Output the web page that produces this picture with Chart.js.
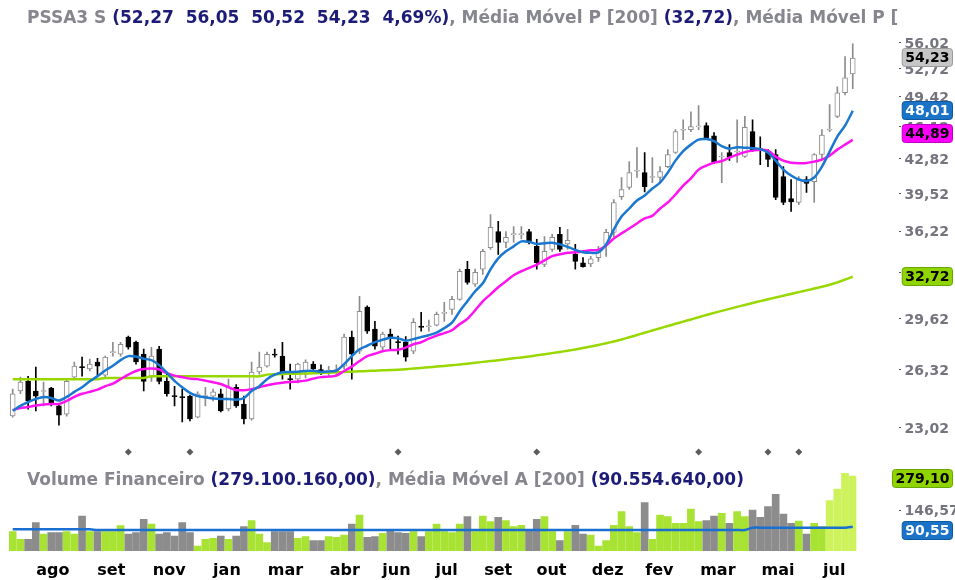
<!DOCTYPE html>
<html>
<head>
<meta charset="utf-8">
<script src="https://cdn.jsdelivr.net/npm/chart.js@4.4.0/dist/chart.umd.min.js"></script>
<style>
html, body { margin: 0; padding: 0; background: #fff; }
#wrap { position: relative; width: 955px; height: 580px; overflow: hidden; }
#c { position: absolute; left: 0; top: 0; }
.t { position: absolute; left: 27px; font: bold 17px 'DejaVu Sans', Verdana, sans-serif; white-space: pre; line-height: 20px; color: #86868e; }
.t b { color: #1c1c78; }
</style>
</head>
<body>
<div id="wrap">
  <canvas id="c" width="955" height="580"></canvas>
  <div class="t" id="hdr" style="top:7px"></div>
  <div class="t" id="vhdr" style="top:469px"></div>
</div>
<script>
// weekly candles, oldest first
const opens = [23.73,25.13,25.70,25.13,25.10,25.30,24.28,23.82,25.95,26.59, 26.44,26.87,26.07,27.46,27.36,28.46,28.13,27.36,25.95,27.68,
  25.70,24.87,24.81,24.84,23.66,24.81,24.84,24.97,24.11,25.35, 24.39,23.56,26.26,26.62,27.36,27.24,25.86,25.83,26.26,26.74,
  26.40,26.30,26.30,26.62,28.46,27.55,30.50,28.99,27.81,28.66, 28.16,28.13,27.55,29.20,29.15,29.26,30.07,30.35,31.06,33.29,
  32.16,33.29,35.00,36.33,35.43,36.07,36.07,36.33,35.10,33.66, 34.86,36.10,35.30,34.46,33.80,33.70,34.20,35.26,36.25,39.38,
  40.21,41.75,41.62,41.15,41.15,42.20,43.60,45.90,45.96,46.25, 46.40,45.30,43.15,43.60,43.65,43.20,45.75,44.00,43.70,43.40,
  41.25,39.20,38.84,40.96,40.77,43.40,45.90,47.40,50.05,52.27];
const highs = [25.24,25.95,26.00,26.56,25.65,25.35,24.39,25.77,26.87,27.18, 27.05,27.10,27.24,28.13,28.13,28.53,28.20,27.68,27.80,27.87,
  26.26,25.41,25.24,24.90,25.08,25.35,25.24,25.24,25.83,25.50, 24.84,26.87,27.49,27.49,27.68,28.13,26.74,26.80,27.00,26.90,
  26.70,26.60,26.70,28.66,28.86,31.28,30.60,29.52,28.80,28.99, 28.53,28.50,29.70,30.14,29.60,30.15,30.85,31.28,33.30,33.90,
  33.30,34.86,37.78,37.18,36.33,36.75,36.75,36.50,35.67,35.90, 36.10,36.67,36.50,35.26,34.20,34.30,35.10,36.50,39.11,41.15,
  42.70,44.10,43.60,43.10,42.20,43.90,45.96,47.03,47.90,48.60, 46.70,45.65,43.60,44.40,47.03,47.40,47.03,45.20,43.90,43.90,
  42.20,40.96,41.25,41.25,43.50,45.96,48.70,50.75,54.40,56.05];
const lows = [23.66,24.97,24.10,24.00,24.28,24.28,23.23,23.71,25.83,26.00, 26.32,26.07,25.95,27.24,27.24,27.68,26.74,25.13,25.70,25.54,
  24.84,24.28,23.40,23.45,23.62,24.28,24.56,23.94,24.00,24.20, 23.29,23.50,26.13,26.56,27.18,25.83,25.24,25.60,25.90,26.30,
  26.10,26.00,26.10,26.44,25.83,27.40,28.70,27.68,27.60,27.68, 27.36,26.93,27.40,28.86,28.85,29.20,29.52,30.00,31.00,32.16,
  32.00,32.90,34.86,34.46,35.00,35.43,35.70,35.30,33.29,33.50, 34.70,34.70,34.86,33.29,33.45,33.50,33.90,34.30,35.90,39.11,
  40.03,41.15,39.80,40.67,40.70,42.10,43.50,44.92,45.75,45.96, 44.90,42.50,40.67,42.80,42.60,43.10,43.70,42.40,42.20,39.10,
  38.65,38.05,38.65,39.75,38.84,42.90,45.75,47.25,49.80,50.52];
const closes = [24.97,25.65,24.56,24.84,25.16,24.45,23.77,25.70,26.62,26.53, 26.74,26.62,27.18,27.52,28.00,27.81,26.87,25.70,27.24,25.70,
  24.97,24.81,24.75,23.56,24.97,24.87,25.08,24.00,25.35,24.28, 23.56,26.26,26.56,27.36,27.30,26.26,25.80,26.74,26.87,26.44,
  26.32,26.38,26.40,28.46,27.36,30.21,28.86,27.87,28.66,28.46, 28.10,27.18,29.46,29.10,29.22,30.00,30.13,31.06,33.14,32.30,
  33.06,34.70,36.67,35.43,35.84,36.13,36.13,35.43,33.80,34.70, 35.84,34.86,35.60,33.90,33.50,34.10,34.86,36.25,38.84,40.03,
  41.62,41.85,40.30,41.25,41.72,43.40,45.75,46.00,46.30,46.35, 45.10,42.60,43.25,43.10,43.75,46.20,43.89,43.85,42.90,39.30,
  38.84,38.90,40.96,40.60,43.40,45.40,46.00,50.05,51.80,54.23];

// moving averages
const maFast = [24.01,24.28,24.50,24.67,24.79,24.73,24.58,24.79,25.08,25.35, 25.70,26.01,26.35,26.64,26.99,27.24,27.21,27.08,26.99,26.68,
  26.22,25.73,25.35,25.02,24.84,24.77,24.70,24.67,24.67,24.63, 24.73,25.13,25.41,25.83,26.10,26.24,26.26,26.28,26.32,26.34,
  26.26,26.29,26.35,26.74,27.24,27.68,27.90,28.13,28.29,28.42, 28.39,28.23,28.33,28.46,28.59,28.76,29.06,29.43,30.21,30.92,
  31.64,32.23,33.29,34.14,34.70,35.10,35.51,35.47,35.30,35.35, 35.40,35.26,35.06,34.82,34.62,34.58,34.62,35.26,36.50,37.60,
  38.31,39.02,39.47,40.12,40.67,41.62,42.79,43.74,44.40,44.92, 44.97,44.76,44.25,43.99,44.14,44.09,44.04,43.94,43.59,42.79,
  41.91,41.34,40.96,40.82,41.15,42.20,43.69,45.23,46.39,48.01];
const maSlow = [24.05,24.16,24.22,24.30,24.36,24.39,24.39,24.56,24.79,24.97, 25.08,25.21,25.41,25.56,25.83,26.10,26.32,26.44,26.47,26.41,
  26.19,26.04,25.95,25.86,25.83,25.74,25.64,25.54,25.35,25.18, 25.18,25.24,25.35,25.47,25.56,25.62,25.66,25.69,25.74,25.86,
  25.95,25.98,26.04,26.32,26.59,26.93,27.24,27.39,27.55,27.62, 27.65,27.78,28.00,28.13,28.36,28.56,28.73,28.92,29.33,29.69,
  30.28,30.92,31.42,31.94,32.38,32.83,33.14,33.40,33.66,33.98, 34.32,34.46,34.58,34.62,34.70,34.78,34.82,35.18,35.75,36.17,
  36.58,37.01,37.44,37.66,38.31,38.84,39.57,40.39,41.06,41.91, 42.30,42.59,42.74,43.09,43.38,43.64,43.79,43.89,43.79,43.19,
  42.79,42.59,42.54,42.56,42.69,42.89,43.29,43.89,44.40,44.89];
const ma200 = [25.83,25.83,25.83,25.83,25.83,25.83,25.83,25.83,25.83,25.83, 25.83,25.83,25.90,25.90,25.90,25.90,25.90,25.90,26.00,26.00,
  26.00,26.00,26.00,26.00,26.00,26.00,26.00,26.00,26.00,26.00, 26.00,26.00,26.00,26.10,26.12,26.14,26.15,26.16,26.17,26.18,
  26.20,26.22,26.24,26.26,26.28,26.30,26.32,26.34,26.36,26.38, 26.40,26.43,26.47,26.51,26.55,26.59,26.63,26.67,26.72,26.77,
  26.82,26.88,26.93,26.98,27.04,27.10,27.16,27.22,27.29,27.36, 27.43,27.50,27.58,27.66,27.75,27.85,27.95,28.06,28.18,28.31,
  28.45,28.60,28.75,28.90,29.05,29.20,29.35,29.50,29.65,29.80, 29.95,30.10,30.24,30.38,30.52,30.66,30.80,30.93,31.06,31.19,
  31.32,31.45,31.58,31.71,31.84,31.97,32.12,32.30,32.50,32.72];

// volume, millions
const volumes = [71.9,43.4,43.4,105.5,63.3,68.2,68.2,71.9,63.3,130.3, 71.9,71.9,71.9,71.9,94.3,63.3,68.2,117.8,100.5,63.3,
  68.2,55.9,105.5,68.2,18.6,43.4,47.2,55.9,43.4,55.9, 90.6,112.9,63.3,31.0,71.9,71.9,71.9,47.2,53.4,38.4,
  38.4,53.4,50.9,59.5,100.5,134.0,50.9,53.4,65.7,75.7, 68.2,65.7,71.9,53.4,71.9,100.5,71.9,68.2,100.5,127.8,
  71.9,130.3,109.1,125.4,112.9,90.6,95.5,78.2,117.8,127.8, 71.9,38.4,71.9,95.5,63.3,59.5,18.6,38.4,95.5,146.4,
  90.6,68.2,179.9,43.4,134.0,127.8,103.0,103.0,156.3,109.1, 112.9,130.3,140.2,103.0,146.4,127.8,152.6,125.4,165.0,210.9,
  137.7,103.0,111.7,63.3,103.0,90.6,187.3,230.7,289.1,279.1];
const volMa = [80.6,80.6,80.6,80.6,80.6,80.6,80.6,80.6,80.6,80.6, 80.6,78.1,78.1,78.1,78.1,78.1,78.1,78.1,78.1,78.1,
  78.1,78.1,78.1,78.1,78.1,78.1,78.1,78.1,78.1,78.1, 78.1,78.1,78.1,78.1,78.1,78.1,78.1,78.1,78.1,78.1,
  78.1,78.1,78.1,78.1,78.1,78.1,78.1,78.1,78.1,78.1, 78.1,78.1,78.1,78.1,78.1,78.1,78.1,78.1,78.1,78.1,
  78.1,78.1,78.1,78.1,78.1,78.1,78.1,78.1,78.1,78.1, 78.1,78.1,78.1,78.1,78.1,78.1,78.1,78.1,78.1,78.1,
  78.1,78.1,78.1,78.1,78.1,78.1,78.1,78.1,78.1,78.1, 78.1,78.1,78.1,78.1,78.1,78.1,86.8,86.8,86.8,86.8,
  86.8,86.8,86.8,86.8,86.8,86.8,86.8,86.8,86.8,90.55];

const monthNames = ['ago','set','nov','jan','mar','abr','jun','jul','set','out','dez','fev','mar','mai','jul'];
const monthPos = [5.2, 12.8, 20.3, 27.8, 35.4, 43.1, 49.8, 56.3, 63.0, 69.9, 77.2, 83.9, 91.5, 99.3, 106.6];
const priceTicks = [23.02, 26.32, 29.62, 32.92, 36.22, 39.52, 42.82, 46.12, 49.42, 52.72, 56.02];
const volTicks = [146.57];
const divIdx = [15, 23, 50, 68, 89, 98, 102];

const N = closes.length;
const last = N - 1;
const idx = closes.map((_, i) => i);
const fmt = v => v.toFixed(2).replace('.', ',');
const isUp = i => closes[i] >= opens[i];

const pct = (closes[last] / closes[last - 1] - 1) * 100;
document.getElementById('hdr').innerHTML = 'PSSA3 S <b>(' +
  [opens[last], highs[last], lows[last], closes[last]].map(fmt).join('  ') + '  ' + fmt(pct) +
  '%)</b>, Média Móvel P [200] <b>(' + fmt(ma200[last]) + ')</b>, Média Móvel P [';
document.getElementById('vhdr').innerHTML =
  'Volume Financeiro <b>(279.100.160,00)</b>, Média Móvel A [200] <b>(90.554.640,00)</b>';

const UP = '#8c8c8c', DOWN = '#000000';
const VUP = '#a8e232', VDOWN = '#8c8c8c', VLAST = '#cdf25c';
const markerLevel = 21.83; // row of the dividend diamonds

// small tick dashes + value tags on the right axis
const tagPlugin = {
  id: 'tags',
  afterDraw(chart) {
    const ctx = chart.ctx;
    const py = chart.scales.y, vy = chart.scales.yv;
    ctx.save();
    ctx.fillStyle = '#555';
    priceTicks.forEach(v => ctx.fillRect(899, Math.round(py.getPixelForValue(v)) - 2, 2, 1));
    volTicks.forEach(v => ctx.fillRect(899, Math.round(vy.getPixelForValue(v)) - 2, 2, 1));

    const tags = [
      [py, closes[last], '#c6c6c6', '#9a9a9a', '#000', 0],
      [py, maSlow[last], '#ff00ff', '#c000c0', '#000', -6],
      [py, maFast[last], '#1b73c8', '#0e58a0', '#fff', 0],
      [py, ma200[last], '#8fd400', '#6aa600', '#000', 0],
      [vy, volumes[last], '#8fd400', '#6aa600', '#000', 3],
      [vy, volMa[last], '#1b73c8', '#0e58a0', '#fff', 4],
    ];
    ctx.font = 'bold 14px "DejaVu Sans"';
    ctx.textAlign = 'center';
    ctx.textBaseline = 'middle';
    tags.forEach(([sc, v, bg, bd, fg, dy]) => {
      const txt = fmt(v);
      const w = ctx.measureText(txt).width + 6;
      const y = Math.round(sc.getPixelForValue(v) + dy);
      const x = 952 - w;
      ctx.beginPath();
      ctx.roundRect(x + 0.5, y - 9.5, w, 18, 3);
      ctx.fillStyle = bg;
      ctx.fill();
      ctx.strokeStyle = bd;
      ctx.lineWidth = 1;
      ctx.stroke();
      ctx.fillStyle = fg;
      ctx.fillText(txt, x + w / 2 + 0.5, y);
    });
    ctx.restore();
  }
};

const lineSet = (data, color, axis) => ({
  type: 'line',
  data: data.map((v, i) => ({ x: i, y: v })),
  yAxisID: axis,
  borderColor: color,
  borderWidth: 2.5,
  pointRadius: 0,
  tension: 0.3,
  order: 0,
});

// right axes: fixed width, and drop the label padding from the layout so the panes keep their size
const rightAxisFit = s => { s.width = 98.4; s.paddingTop = 0; s.paddingBottom = 0; };

new Chart(document.getElementById('c'), {
  type: 'bar',
  data: {
    datasets: [
      lineSet(maFast, '#1b78d0', 'y'),
      lineSet(maSlow, '#ff14f0', 'y'),
      lineSet(ma200, '#98d800', 'y'),
      lineSet(volMa, '#1b6fd0', 'yv'),
      {
        type: 'scatter',
        data: divIdx.map(i => ({ x: i, y: markerLevel })),
        yAxisID: 'y',
        pointStyle: 'rectRot',
        pointRadius: 3.5,
        backgroundColor: '#5c5c5c',
        borderWidth: 0,
        order: 0,
      },
      {
        // candle bodies
        data: idx.map(i => ({ x: i, y: [opens[i], closes[i]] })),
        yAxisID: 'y',
        backgroundColor: idx.map(i => isUp(i) ? '#ffffff' : DOWN),
        borderColor: idx.map(i => isUp(i) ? UP : DOWN),
        borderWidth: 1,
        borderSkipped: false,
        barThickness: 5,
        minBarLength: 1,
        grouped: false,
        order: 1,
      },
      {
        // wicks
        data: idx.map(i => ({ x: i, y: [lows[i], highs[i]] })),
        yAxisID: 'y',
        backgroundColor: idx.map(i => isUp(i) ? UP : DOWN),
        borderWidth: 0,
        barThickness: 1,
        grouped: false,
        order: 2,
      },
      {
        // volume
        data: idx.map(i => ({ x: i, y: volumes[i] })),
        yAxisID: 'yv',
        backgroundColor: idx.map(i => i >= N - 4 ? VLAST : (isUp(i) ? VUP : VDOWN)),
        borderWidth: 0,
        barThickness: 7,
        grouped: false,
        order: 3,
      },
    ],
  },
  options: {
    responsive: false,
    maintainAspectRatio: false,
    animation: false,
    layout: { padding: { left: 8.85, right: 0, top: 33, bottom: 0 } },
    plugins: { legend: { display: false }, tooltip: { enabled: false } },
    scales: {
      x: {
        type: 'linear',
        min: -0.5,
        max: N - 0.5,
        offset: false,
        grid: { display: false, drawTicks: false },
        border: { display: false },
        afterBuildTicks: s => { s.ticks = monthPos.map(v => ({ value: v })); },
        afterFit: s => { s.height = 29; s.paddingLeft = 0; s.paddingRight = 0; },
        ticks: {
          callback: (v, i) => monthNames[i],
          autoSkip: false,
          maxRotation: 0,
          padding: 10,
          color: '#000',
          font: { family: 'DejaVu Sans', size: 16, weight: 'bold' },
        },
      },
      y: {
        type: 'logarithmic',
        position: 'right',
        stack: 'pane',
        stackWeight: 429,
        min: 21.33,
        max: 57.46,
        grid: { display: false, drawTicks: false },
        border: { display: false },
        afterBuildTicks: s => { s.ticks = priceTicks.map(v => ({ value: v })); },
        afterFit: rightAxisFit,
        ticks: {
          callback: v => fmt(v),
          autoSkip: false,
          padding: 48,
          color: '#74747e',
          font: { family: 'DejaVu Sans', size: 14, weight: 'bold' },
        },
      },
      yv: {
        type: 'linear',
        position: 'right',
        stack: 'pane',
        stackWeight: 89,
        min: 0,
        max: 331.2,
        grid: { display: false, drawTicks: false },
        border: { display: false },
        afterBuildTicks: s => { s.ticks = volTicks.map(v => ({ value: v })); },
        afterFit: rightAxisFit,
        ticks: {
          callback: v => fmt(v),
          autoSkip: false,
          padding: 48,
          color: '#74747e',
          font: { family: 'DejaVu Sans', size: 14, weight: 'bold' },
        },
      },
    },
  },
  plugins: [tagPlugin],
});
</script>
</body>
</html>
